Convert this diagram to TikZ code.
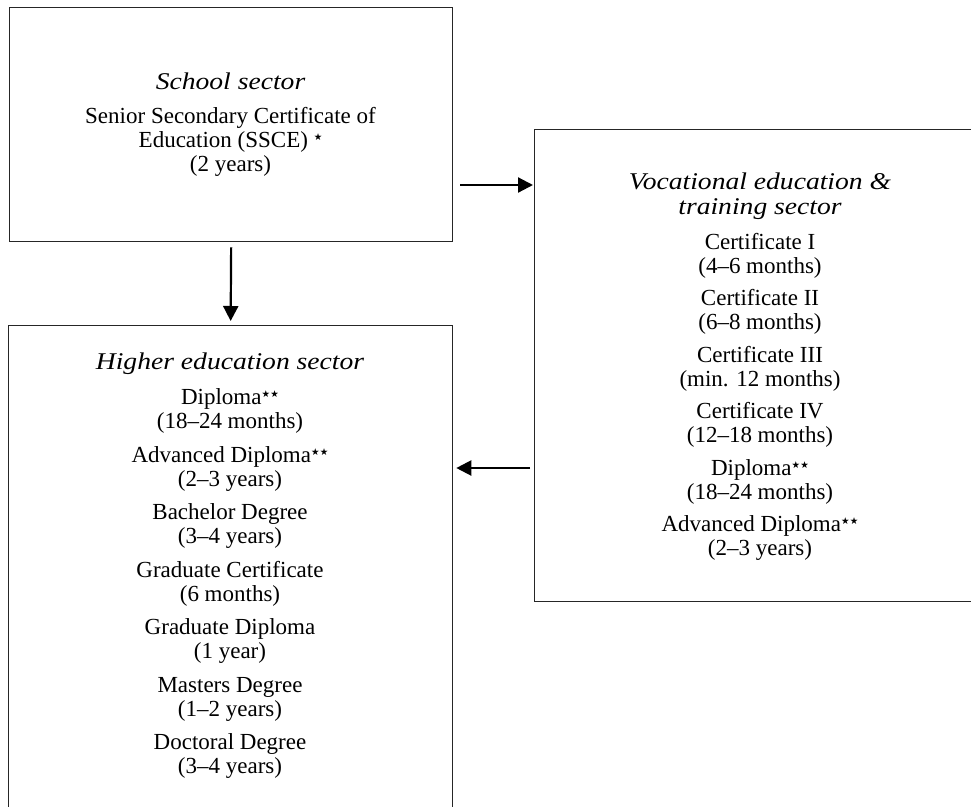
\documentclass[tikz,border=0pt]{standalone}
\usepackage{fontspec}
\setmainfont{Liberation Serif}
\newfontfamily\titlefam[FakeStretch=1.15]{Liberation Serif}
\newfontfamily\starfont{DejaVu Sans}
\usetikzlibrary{arrows.meta}
\newcommand{\onestar}{\raisebox{7pt}{\starfont\fontsize{9.5}{9.5}\selectfont ★}}
\newcommand{\twostar}{\onestar\hspace{0.3pt}\onestar}
\newcommand{\bodyfont}{\fontsize{23}{24}\selectfont}
\newcommand{\ttl}[1]{{\titlefam\itshape\fontsize{24}{25}\selectfont #1}}
\begin{document}
\begin{tikzpicture}[x=1pt,y=-1pt,
  box/.style={draw=black!85, line width=1.3pt, rectangle, inner sep=0pt, anchor=north west},
  txt/.style={align=center, font=\bodyfont, inner sep=0pt},
  arr/.style={line width=2.2pt, -{Triangle[length=15pt,width=15pt]}}]
\useasboundingbox (0,0) rectangle (971,806);
\clip (0,0) rectangle (971,806);
% boxes
\node[box, minimum width=443pt, minimum height=234pt] (school) at (9,7) {};
\node[box, minimum width=452pt, minimum height=472pt] (vet) at (534,129) {};
\node[box, minimum width=444pt, minimum height=520pt] (higher) at (8,325) {};
% texts
\node[txt] (schooltxt) at (230.5,125) {\ttl{School sector}\\[10pt]
Senior Secondary Certificate of\\
Education (SSCE) \onestar\\
(2 years)};
\node[txt] (vettxt) at (760,366.5) {\ttl{Vocational education \&}\\[1pt]
\ttl{training sector}\\[11pt]
Certificate I\\ (4–6 months)\\[8.5pt]
Certificate II\\ (6–8 months)\\[8.5pt]
Certificate III\\ (min. 12 months)\\[8.5pt]
Certificate IV\\ (12–18 months)\\[8.5pt]
Diploma\twostar\\ (18–24 months)\\[8.5pt]
Advanced Diploma\twostar\\ (2–3 years)};
\node[txt] (highertxt) at (230,566) {\ttl{Higher education sector}\\[11pt]
Diploma\twostar\\ (18–24 months)\\[9.5pt]
Advanced Diploma\twostar\\ (2–3 years)\\[9.5pt]
Bachelor Degree\\ (3–4 years)\\[9.5pt]
Graduate Certificate\\ (6 months)\\[9.5pt]
Graduate Diploma\\ (1 year)\\[9.5pt]
Masters Degree\\ (1–2 years)\\[9.5pt]
Doctoral Degree\\ (3–4 years)};
% connectors
\coordinate (hy1) at (0,185);
\coordinate (hy2) at (0,468);
\draw[arr] ([xshift=7pt]school.east |- hy1) -- ([xshift=-1pt]vet.west |- hy1);
\draw[arr] ([yshift=-5pt]school.south) -- ([yshift=4pt]higher.north);
\draw[arr] ([xshift=-4pt]vet.west |- hy2) -- ([xshift=3pt]higher.east |- hy2);
\end{tikzpicture}
\end{document}
